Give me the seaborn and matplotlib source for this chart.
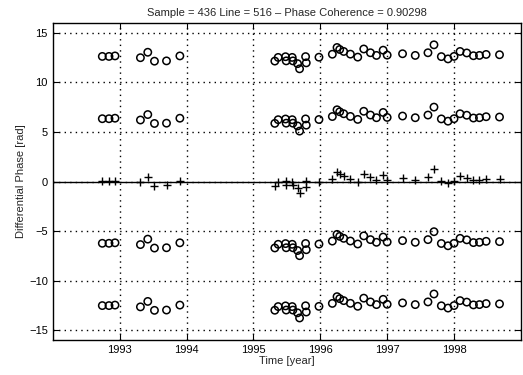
import numpy as np
import pandas as pd
import matplotlib
matplotlib.use('Agg')
import matplotlib.pyplot as plt
import seaborn as sns

# Acquisition times (decimal year) and unwrapped differential phase [rad]
years = [1992.74, 1992.84, 1992.93,
         1993.31, 1993.42, 1993.52, 1993.70, 1993.90,
         1995.32, 1995.37, 1995.48, 1995.49, 1995.58, 1995.59, 1995.66, 1995.69,
         1995.78, 1995.79, 1995.98,
         1996.18, 1996.25, 1996.29, 1996.35, 1996.45, 1996.56, 1996.65, 1996.75,
         1996.84, 1996.94, 1997.00, 1997.23, 1997.42, 1997.61, 1997.70, 1997.81,
         1997.91, 1998.00, 1998.09, 1998.19, 1998.29, 1998.38, 1998.48, 1998.68]
phase = [0.05, 0.05, 0.10,
         -0.08, 0.47, -0.43, -0.40, 0.10,
         -0.42, -0.05, 0.02, -0.40, -0.05, -0.40, -0.68, -1.20,
         0.03, -0.60, -0.03,
         0.27, 0.95, 0.75, 0.55, 0.28, -0.02, 0.80, 0.42,
         0.15, 0.68, 0.18, 0.32, 0.15, 0.42, 1.22, 0.03,
         -0.20, 0.05, 0.55, 0.40, 0.12, 0.15, 0.25, 0.22]
wraps = [-2, -1, 1, 2]

df = pd.DataFrame({'year': years, 'phase': phase})
# phase ambiguities: same points shifted by multiples of 2*pi
df_amb = pd.concat([df.assign(phase=df['phase'] + k * 2 * np.pi) for k in wraps],
                   ignore_index=True)

sns.set_style('ticks')
plt.rcParams['font.family'] = ['Liberation Sans', 'DejaVu Sans']
plt.rcParams['xtick.direction'] = 'in'
plt.rcParams['ytick.direction'] = 'in'

fig = plt.figure(figsize=(5.23, 3.75), dpi=100)
ax = fig.add_axes([0.101, 0.093, 0.895, 0.846])

ax.axhline(0, color='black', linewidth=1.0, zorder=1)
sns.scatterplot(data=df_amb, x='year', y='phase', marker='o', s=28,
                facecolors='none', edgecolor='black', linewidth=1.1, ax=ax, zorder=3)
sns.scatterplot(data=df, x='year', y='phase', marker='+', s=40,
                color='black', linewidth=1.0, ax=ax, zorder=3)

ax.set_xlim(1992, 1999)
ax.set_ylim(-16, 16)
ax.set_xticks([1993, 1994, 1995, 1996, 1997, 1998])
ax.set_yticks([-15, -10, -5, 0, 5, 10, 15])
ax.grid(True, linestyle=(0, (1, 3)), color='black', linewidth=1.0)
ax.tick_params(labelsize=8, length=4, top=True, right=True, colors='black')
for sp in ax.spines.values():
    sp.set_color('black')
    sp.set_linewidth(1.0)

ax.set_title('Sample = 436 Line = 516 \u2013 Phase Coherence = 0.90298', fontsize=8, pad=5)
ax.set_xlabel('Time [year]', fontsize=8, labelpad=1)
ax.set_ylabel('Differential Phase [rad]', fontsize=8, labelpad=2)

fig.savefig('out.png', dpi=100)
